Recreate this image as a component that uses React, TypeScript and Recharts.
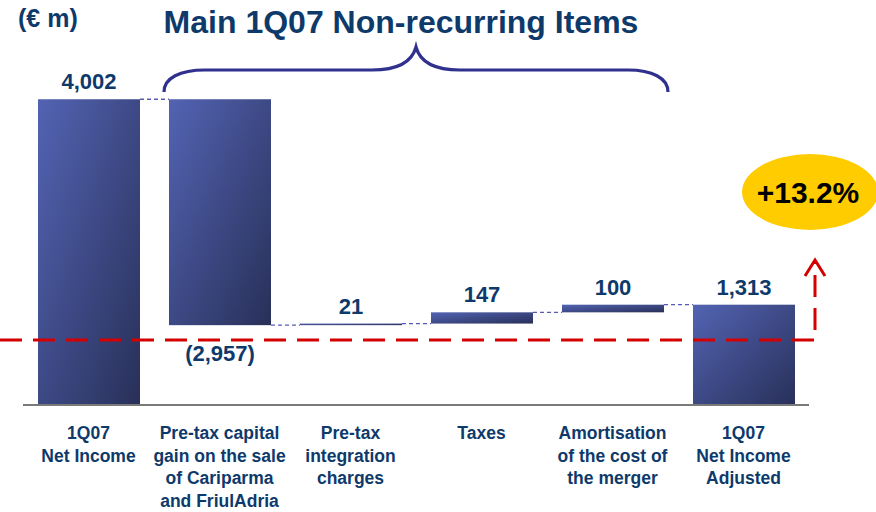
import { Bar, BarChart, XAxis, YAxis } from "recharts";

const categories = [
  "1Q07\nNet Income",
  "Pre-tax capital\ngain on the sale\nof Cariparma\nand FriulAdria",
  "Pre-tax\nintegration\ncharges",
  "Taxes",
  "Amortisation\nof the cost of\nthe merger",
  "1Q07\nNet Income\nAdjusted",
];
const changes = [4002, -2957, 21, 147, 100, 1313];
const isTotal = [true, false, false, false, false, true];
const valueLabels = ["4,002", "(2,957)", "21", "147", "100", "1,313"];

const NAVY = "#0e3a6b";
const FONT = "'Liberation Sans', Arial, sans-serif";
const WIDTH = 876;
const HEIGHT = 512;
const MARGIN = { top: 23, right: 67, bottom: 47, left: 23 };
const BAR_SIZE = 102;
const STEP = (WIDTH - MARGIN.left - MARGIN.right) / categories.length;

// running totals -> invisible base + visible step
let running = 0;
const rows = categories.map((name, i) => {
  const v = changes[i];
  let base: number;
  if (isTotal[i]) {
    base = 0;
    running = v;
  } else if (v >= 0) {
    base = running;
    running += v;
  } else {
    base = running + v;
    running += v;
  }
  return {
    name,
    base,
    size: Math.abs(v),
    up: v >= 0,
    label: valueLabels[i],
    last: i === categories.length - 1,
  };
});

function StepBar(props: any) {
  const { x, y, width, height, payload } = props;
  const level = payload.up ? y : y + height;
  const ty = payload.up ? y - 10 : y + height + 36;
  return (
    <g>
      <rect x={x} y={y} width={width} height={Math.max(height, 1.6)} fill="url(#barFill)" />
      {!payload.last && (
        <line
          x1={x + width}
          x2={x + STEP}
          y1={level}
          y2={level}
          stroke="#5a5ab4"
          strokeWidth={1.3}
          strokeDasharray="4 3"
        />
      )}
      <text
        x={x + width / 2}
        y={ty}
        textAnchor="middle"
        fontSize={22}
        fontWeight={700}
        fill={NAVY}
        fontFamily={FONT}
      >
        {payload.label}
      </text>
    </g>
  );
}

function CategoryTick({ x, y, payload }: any) {
  const lines = String(payload.value).split("\n");
  return (
    <text x={x} y={y} textAnchor="middle" fill={NAVY} fontSize={17.5} fontWeight={700} fontFamily={FONT}>
      {lines.map((line, i) => (
        <tspan key={i} x={x} dy={i === 0 ? 34 : 22.5}>
          {line}
        </tspan>
      ))}
    </text>
  );
}

export default function App() {
  return (
    <div style={{ position: "absolute", left: 0, top: 0, width: WIDTH, height: HEIGHT, background: "#fff" }}>
      <BarChart width={WIDTH} height={HEIGHT} data={rows} margin={MARGIN} barSize={BAR_SIZE}>
        <defs>
          <linearGradient id="barFill" x1="0" y1="0" x2="1" y2="1">
            <stop offset="0%" stopColor="#5363b3" />
            <stop offset="100%" stopColor="#283058" />
          </linearGradient>
        </defs>
        <YAxis hide domain={[0, 5000]} />
        <XAxis
          dataKey="name"
          height={60}
          interval={0}
          tickLine={false}
          tickSize={0}
          tickMargin={0}
          axisLine={{ stroke: "#7a7a7a", strokeWidth: 2 }}
          tick={<CategoryTick />}
        />
        <Bar dataKey="base" stackId="w" fill="transparent" isAnimationActive={false} />
        <Bar dataKey="size" stackId="w" shape={<StepBar />} isAnimationActive={false} />
      </BarChart>
      <svg
        width={WIDTH}
        height={HEIGHT}
        style={{ position: "absolute", left: 0, top: 0, pointerEvents: "none" }}
      >
        <text x={18} y={27} fontSize={25} fontWeight={700} fill={NAVY} fontFamily={FONT}>
          (€ m)
        </text>
        <text x={401} y={33} textAnchor="middle" fontSize={32} fontWeight={700} fill={NAVY} fontFamily={FONT}>
          Main 1Q07 Non-recurring Items
        </text>
        <path
          d="M164 92 C164 78 180 70 205 70 L372 70 C398 70 412 62 416 47 C420 62 434 70 460 70 L628 70 C652 70 668 78 668 92"
          fill="none"
          stroke="#30308f"
          strokeWidth={3.2}
        />
        <path d="M0 340 L815 340 L815 262" fill="none" stroke="#d40000" strokeWidth={3} strokeDasharray="22 11" />
        <path d="M805 276 L815 260 L825 276" fill="none" stroke="#d40000" strokeWidth={3} />
        <ellipse cx={810} cy={192} rx={68} ry={38} fill="#ffcc00" />
        <text x={808} y={203} textAnchor="middle" fontSize={30} fontWeight={700} fill="#000" fontFamily={FONT}>
          +13.2%
        </text>
      </svg>
    </div>
  );
}
